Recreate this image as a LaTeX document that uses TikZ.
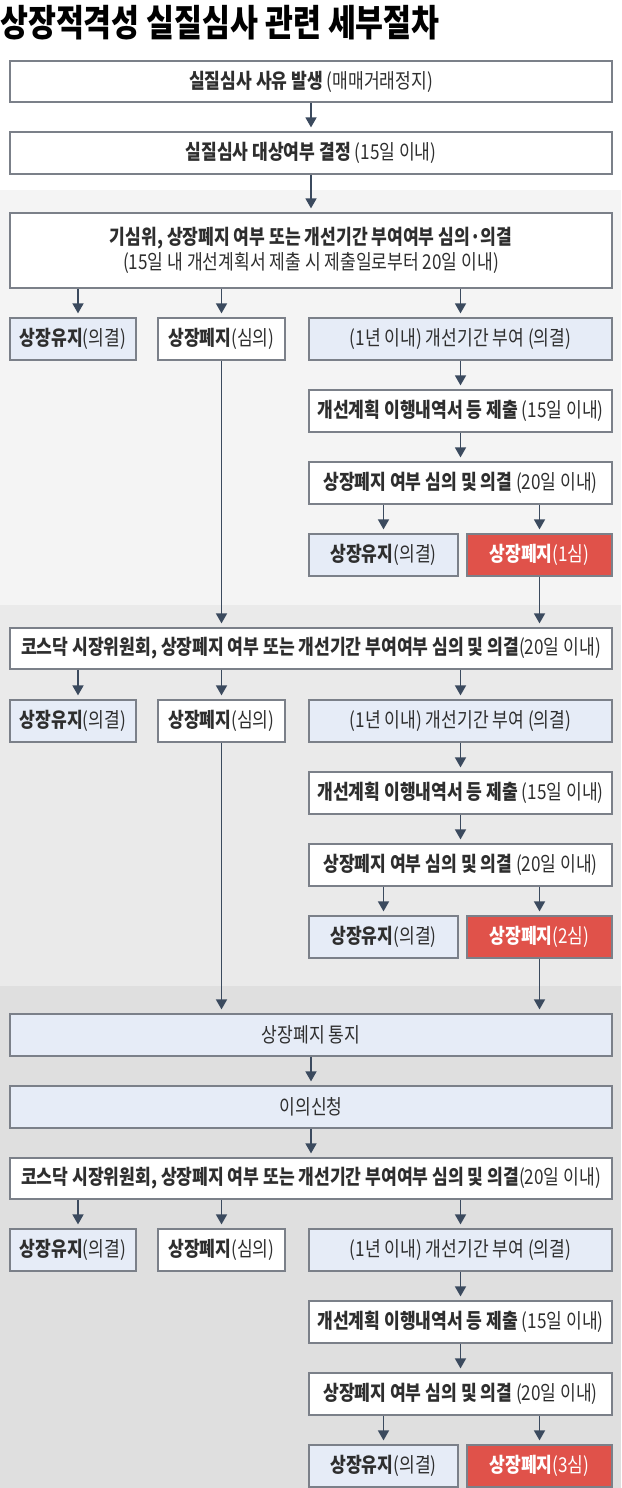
\documentclass[tikz,border=0pt]{standalone}
\usepackage{fontspec}
\setmainfont{Noto Sans CJK KR}[FakeStretch=0.835]
\newfontfamily\titlefont{Noto Sans CJK KR}[FakeStretch=0.82]
\usetikzlibrary{arrows.meta}
\definecolor{bordc}{HTML}{7B8089}
\definecolor{lblue}{HTML}{E6ECF7}
\definecolor{redc}{HTML}{E0524A}
\definecolor{arrc}{HTML}{3B4A5E}
\definecolor{txtc}{HTML}{2E2E2E}
\definecolor{bandA}{HTML}{F4F4F4}
\definecolor{bandB}{HTML}{EAEAEA}
\definecolor{bandC}{HTML}{DFDFDF}
\tikzset{
  box/.style={draw=bordc, line width=1.2pt, fill=white, minimum height=42pt,
    inner sep=0pt, text=txtc, font=\fontsize{20.5}{25}\selectfont},
  bluebox/.style={box, fill=lblue},
  redbox/.style={box, fill=redc, text=white},
  arr/.style={draw=arrc, line width=1.5pt, -{Triangle[width=11pt,length=10pt]}, shorten >=4pt}
}
\newcommand\branchblock[4]{%
  \node[bluebox, minimum width=126pt] (#1a) at (73,#3) {\textbf{상장유지}(의결)};
  \node[box, minimum width=127pt] (#1b) at (221.5,#3) {\textbf{상장폐지}(심의)};
  \node[bluebox, minimum width=303pt] (#1c) at (460.5,#3) {(1년 이내) 개선기간 부여 (의결)};
  \node[box, minimum width=303pt] (#1d) at (460.5,#3+72) {\textbf{개선계획 이행내역서 등 제출} (15일 이내)};
  \node[box, minimum width=303pt] (#1e) at (460.5,#3+144) {\textbf{상장폐지 여부 심의 및 의결} (20일 이내)};
  \node[bluebox, minimum width=149pt] (#1f) at (383.5,#3+216) {\textbf{상장유지}(의결)};
  \node[redbox, minimum width=145pt] (#1g) at (539.5,#3+216) {\textbf{상장폐지}(#4심)};
  \draw[arr] ([xshift=5pt]#2.south -| #1a.north) -- ([xshift=5pt]#1a.north);
  \draw[arr] (#2.south -| #1b.north) -- (#1b.north);
  \draw[arr] (#2.south -| #1c.north) -- (#1c.north);
  \draw[arr] (#1c.south) -- (#1d.north);
  \draw[arr] (#1d.south) -- (#1e.north);
  \draw[arr] (#1e.south -| #1f.north) -- (#1f.north);
  \draw[arr] (#1e.south -| #1g.north) -- (#1g.north);
}
\begin{document}
\begin{tikzpicture}[x=1pt,y=-1pt]
\useasboundingbox (0,0) rectangle (621,1488);
\fill[white] (0,0) rectangle (621,190);
\fill[bandA] (0,190) rectangle (621,605);
\fill[bandB] (0,605) rectangle (621,986);
\fill[bandC] (0,986) rectangle (621,1488);

\node[anchor=west, inner sep=0pt, text=black, font=\titlefont\fontsize{37}{42}\selectfont\bfseries] (title) at (0,23) {상장적격성 실질심사 관련 세부절차};

\node[box, minimum width=602pt, minimum height=41pt] (s1) at (311,81.5) {\textbf{실질심사 사유 발생} (매매거래정지)};
\node[box, minimum width=602pt] (s2) at (311,153) {\textbf{실질심사 대상여부 결정} (15일 이내)};
\node[box, minimum width=602pt, minimum height=75pt, align=center] (s3) at (311,250.5)
  {\textbf{기심위, 상장폐지 여부 또는 개선기간 부여여부 심의·의결}\\(15일 내 개선계획서 제출 시 제출일로부터 20일 이내)};
\draw[arr] (s1.south) -- (s2.north);
\draw[arr] (s2.south) -- (s3.north);

\branchblock{p}{s3}{339}{1}

\node[box, minimum width=602pt, minimum height=41pt] (k2) at (311,648.5) {\textbf{코스닥 시장위원회, 상장폐지 여부 또는 개선기간 부여여부 심의 및 의결}(20일 이내)};
\draw[arr] (pb.south) -- (pb.south |- k2.north);
\draw[arr] (pg.south) -- (pg.south |- k2.north);

\branchblock{q}{k2}{721}{2}

\node[bluebox, minimum width=602pt] (n) at (311,1035) {상장폐지 통지};
\node[bluebox, minimum width=602pt] (o) at (311,1107) {이의신청};
\node[box, minimum width=602pt, minimum height=41pt] (k3) at (311,1178.5) {\textbf{코스닥 시장위원회, 상장폐지 여부 또는 개선기간 부여여부 심의 및 의결}(20일 이내)};
\draw[arr] (qb.south) -- (qb.south |- n.north);
\draw[arr] (qg.south) -- (qg.south |- n.north);
\draw[arr] (n.south) -- (o.north);
\draw[arr] (o.south) -- (k3.north);

\branchblock{r}{k3}{1250}{3}
\end{tikzpicture}
\end{document}
